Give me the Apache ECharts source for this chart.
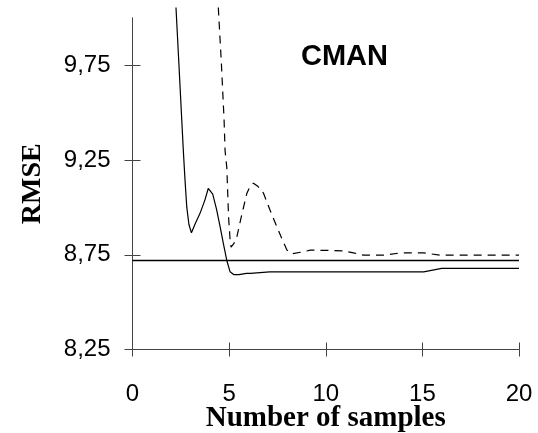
<!DOCTYPE html>
<html>
<head>
<meta charset="utf-8">
<script src="https://cdn.jsdelivr.net/npm/echarts@6/dist/echarts.min.js"></script>
<style>html,body{margin:0;padding:0;background:#fff}#c{width:538px;height:433px}</style>
</head>
<body>
<div id="c"></div>
<script>
// Data
var xTicks = [0, 5, 10, 15, 20];
var yTicks = [8.25, 8.75, 9.25, 9.75];
var solidSeries = [
  [2.25, 10.055], [2.4, 9.76], [2.55, 9.46], [2.63, 9.30], [2.72, 9.14], [2.81, 9.0],
  [2.92, 8.91], [3.05, 8.866], [3.25, 8.915], [3.5, 8.97], [3.75, 9.04], [3.92, 9.10],
  [4.0, 9.105], [4.15, 9.07], [4.35, 8.99], [4.53, 8.90], [4.7, 8.81], [4.88, 8.72],
  [5.05, 8.66], [5.25, 8.645], [5.5, 8.645], [5.9, 8.652], [6.1, 8.652], [7.1, 8.66],
  [15.07, 8.66], [16.0, 8.678], [20, 8.678]
];
var dashedSeries = [
  [4.44, 10.055], [4.6, 9.76], [4.74, 9.46], [4.79, 9.30], [4.88, 9.21], [4.97, 8.95],
  [5.05, 8.83], [5.1, 8.79], [5.25, 8.81], [5.4, 8.845], [5.65, 8.96], [5.92, 9.075],
  [6.1, 9.115], [6.26, 9.128], [6.5, 9.11], [6.78, 9.075], [7.1, 8.99], [7.47, 8.898],
  [7.75, 8.83], [7.99, 8.775], [8.25, 8.755], [8.85, 8.766], [9.2, 8.775], [10.9, 8.771],
  [11.44, 8.76], [11.96, 8.748], [13.0, 8.748], [13.86, 8.76], [15.07, 8.76],
  [15.93, 8.748], [20, 8.748]
];
var referenceLevel = 8.72;
var referenceLine = [[0, referenceLevel], [20, referenceLevel]];
var titleText = 'CMAN';
var xName = 'Number of samples';
var yName = 'RMSE';

var axisColor = '#444';
var fmt = function (v) { return v.toFixed(2).replace('.', ','); };

var chart = echarts.init(document.getElementById('c'), null, {renderer: 'canvas'});
chart.setOption({
  backgroundColor: '#fff',
  animation: false,
  grid: {left: 132.5, right: 19, top: 18, bottom: 83.5, containLabel: false, outerBoundsMode: 'none'},
  graphic: [{
    type: 'text', left: 301, top: 42,
    style: {text: titleText, font: 'bold 29px "Liberation Sans", Arial, sans-serif', fill: '#000'}
  }],
  xAxis: [{
    type: 'value', min: xTicks[0], max: xTicks[xTicks.length - 1], interval: 5,
    name: xName, nameLocation: 'middle', nameGap: 55, nameMoveOverlap: false,
    nameTextStyle: {fontFamily: '"Liberation Serif", "Times New Roman", serif', fontWeight: 'bold', fontSize: 29, color: '#000'},
    axisLine: {show: true, lineStyle: {color: axisColor, width: 1}},
    axisTick: {show: true, length: 7, lineStyle: {color: axisColor}},
    axisLabel: {margin: 33, fontSize: 24, color: '#000', fontFamily: '"Liberation Sans", Arial, sans-serif'},
    splitLine: {show: false}
  }, {
    type: 'value', position: 'bottom', offset: 0, min: xTicks[0], max: xTicks[xTicks.length - 1], interval: 5,
    axisLine: {show: true, lineStyle: {color: axisColor, width: 1}},
    axisTick: {show: true, inside: true, length: 7, lineStyle: {color: axisColor}},
    axisLabel: {show: false}, splitLine: {show: false}
  }],
  yAxis: [{
    type: 'value', min: yTicks[0], max: 10.0, interval: 0.5,
    name: yName, nameLocation: 'middle', nameGap: 86, nameRotate: 90, nameMoveOverlap: false,
    nameTextStyle: {fontFamily: '"Liberation Serif", "Times New Roman", serif', fontWeight: 'bold', fontSize: 28, color: '#000'},
    axisLine: {show: true, lineStyle: {color: axisColor, width: 1}},
    axisTick: {show: true, length: 8, customValues: yTicks, lineStyle: {color: axisColor}},
    axisLabel: {margin: 22, fontSize: 24, color: '#000', fontFamily: '"Liberation Sans", Arial, sans-serif', formatter: fmt, customValues: yTicks},
    splitLine: {show: false}
  }, {
    type: 'value', position: 'left', offset: 0, min: yTicks[0], max: 10.0, interval: 0.5,
    axisLine: {show: true, lineStyle: {color: axisColor, width: 1}},
    axisTick: {show: true, inside: true, length: 8, customValues: yTicks, lineStyle: {color: axisColor}},
    axisLabel: {show: true, inside: true, customValues: yTicks, formatter: function () { return ''; }},
    splitLine: {show: false}
  }],
  series: [{
    type: 'line', data: referenceLine, showSymbol: false, clip: false,
    lineStyle: {color: '#000', width: 1.6}
  }, {
    type: 'line', data: solidSeries, showSymbol: false, clip: false, smooth: false,
    lineStyle: {color: '#000', width: 1.2}
  }, {
    type: 'line', data: dashedSeries, showSymbol: false, clip: false, smooth: false,
    lineStyle: {color: '#000', width: 1.2, type: [8, 6]}
  }]
});
</script>
</body>
</html>
